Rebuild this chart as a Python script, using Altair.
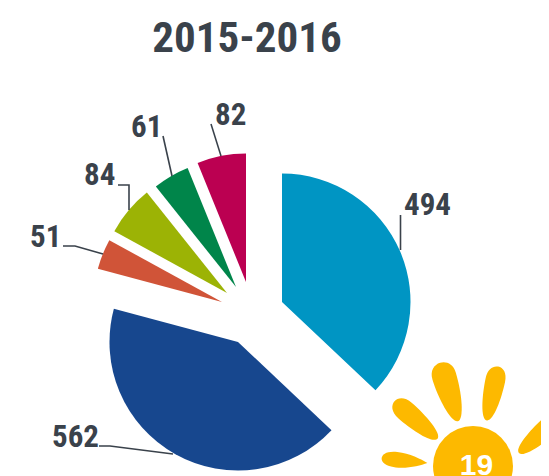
import altair as alt
import pandas as pd

TEXT = "#3A424B"
FONT = "'Roboto Condensed', 'Liberation Sans'"
SUN = "#FDB900"

# slices, clockwise from 12 o'clock
values = [494, 562, 51, 84, 61, 82]
names = ["a", "b", "c", "d", "e", "f"]
colors = ["#0095C3", "#17478E", "#D05438", "#9CB305", "#00854A", "#BB0051"]
tip_x = [282, 238, 222, 227, 236, 246]
tip_y = [302, 342, 302, 293, 287, 282]

# labels
label_x = [404, 52, 30, 84, 131, 215]
label_y = [215, 447, 247, 185, 137, 125]

# leader lines
line_names = ["a", "a", "b", "b", "b", "c", "c", "c", "d", "d", "d", "e", "e", "f", "f"]
line_x = [400.5, 400.5, 99, 110, 173, 63, 75, 103, 118, 129, 129, 163, 172, 211, 221]
line_y = [215, 250, 446, 446, 454, 246, 246, 254, 185, 185, 210, 136, 176, 124, 156]

# sun
petal_x = [449, 492.5, 416, 404.5, 539]
petal_y = [392, 393.5, 420, 460.5, 435]
petal_len = [61, 55, 57, 46, 54]
petal_angle = [343, 12, 311, 276, 48]
petal_kind = ["wide", "slim", "slim", "flat", "slim"]
sun_x, sun_y, sun_r = 473, 466, 40

WIDE = "M0,1 C-0.22,1 -0.4,0.15 -0.4,-0.55 C-0.4,-0.85 -0.2,-1 0,-1 C0.2,-1 0.4,-0.85 0.4,-0.55 C0.4,0.15 0.22,1 0,1 Z"
SLIM = "M0,1 C-0.24,1 -0.36,0.15 -0.36,-0.5 C-0.36,-0.85 -0.18,-1 0,-1 C0.18,-1 0.36,-0.85 0.36,-0.5 C0.36,0.15 0.24,1 0,1 Z"
FLAT = "M0,1 C-0.14,0.7 -0.34,0.2 -0.34,-0.35 C-0.34,-0.8 -0.18,-1 0,-1 C0.18,-1 0.34,-0.8 0.34,-0.35 C0.34,0.2 0.14,0.7 0,1 Z"

total = sum(values)
starts, ends, run = [], [], 0
for v in values:
    starts.append(run)
    run += v
    ends.append(run)

slices = pd.DataFrame({"name": names, "start": starts, "end": ends, "x": tip_x, "y": tip_y,
                       "lx": label_x, "ly": label_y, "value": values})
lines = pd.DataFrame({"name": line_names, "x": line_x, "y": line_y, "i": range(len(line_x))})
petals = pd.DataFrame({"x": petal_x, "y": petal_y, "len2": [l * l for l in petal_len],
                       "angle": petal_angle, "kind": petal_kind})
disc = pd.DataFrame({"x": [sun_x], "y": [sun_y], "t": ["19"], "tx": [476.5], "ty": [475]})
title = pd.DataFrame({"x": [247], "y": [52], "t": ["2015-2016"]})

SX = alt.Scale(domain=[8, 541], nice=False, zero=False)
SY = alt.Scale(domain=[476, 8], nice=False, zero=False)
X = alt.X("x:Q", scale=SX, axis=None)
Y = alt.Y("y:Q", scale=SY, axis=None)

arcs = alt.Chart(slices).mark_arc(radius=128.5).encode(
    x=X, y=Y,
    theta=alt.Theta("start:Q", scale=alt.Scale(domain=[0, total], range=[0, 6.283185307])),
    theta2="end:Q",
    color=alt.Color("name:N", scale=alt.Scale(domain=names, range=colors), legend=None),
)
leaders = alt.Chart(lines).mark_line(color=TEXT, strokeWidth=1.6).encode(
    x=X, y=Y, detail="name:N", order="i:Q")
labels = alt.Chart(slices).mark_text(font=FONT, fontWeight="bold", fontSize=31, color=TEXT,
                                     align="left", baseline="alphabetic").encode(
    x=alt.X("lx:Q", scale=SX, axis=None), y=alt.Y("ly:Q", scale=SY, axis=None), text="value:Q")
heading = alt.Chart(title).mark_text(font=FONT, fontWeight="bold", fontSize=43, color=TEXT,
                                     align="center", baseline="alphabetic").encode(x=X, y=Y, text="t:N")
rays = alt.Chart(petals).mark_point(filled=True, fill=SUN, opacity=1, strokeWidth=0).encode(
    x=X, y=Y,
    size=alt.Size("len2:Q", scale=None),
    angle=alt.Angle("angle:Q", scale=None),
    shape=alt.Shape("kind:N", scale=alt.Scale(domain=["wide", "slim", "flat"], range=[WIDE, SLIM, FLAT]), legend=None),
)
sun = alt.Chart(disc).mark_point(filled=True, fill=SUN, opacity=1, strokeWidth=0, shape="circle").encode(
    x=X, y=Y, size=alt.value((2 * sun_r) ** 2))
sun_text = alt.Chart(disc).mark_text(font="Liberation Sans", fontWeight="bold", fontSize=30, color="white",
                                     align="center", baseline="alphabetic").encode(
    x=alt.X("tx:Q", scale=SX, axis=None), y=alt.Y("ty:Q", scale=SY, axis=None), text="t:N")

chart = alt.layer(
    arcs, leaders, labels, heading, rays, sun, sun_text
).properties(width=533, height=468, padding=0, autosize=alt.AutoSizeParams(type="none"),
             background="white").configure_view(stroke=None)

chart.save("out.html", embed_options={"renderer": "svg", "actions": False})
